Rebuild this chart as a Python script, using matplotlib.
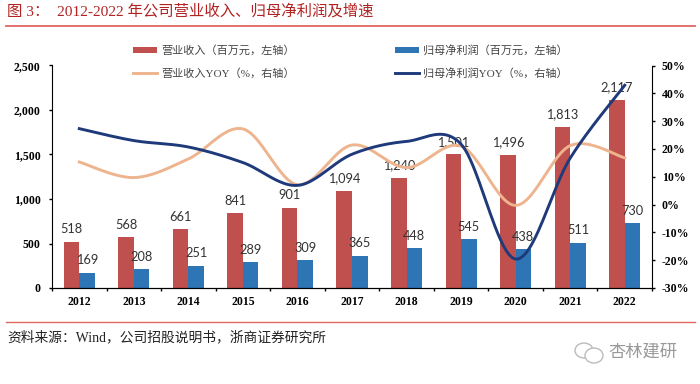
import numpy as np
import matplotlib
matplotlib.use('Agg')
import matplotlib.pyplot as plt
from matplotlib.patches import Ellipse
from matplotlib.ticker import FuncFormatter

plt.rcParams['font.family'] = ['Liberation Serif', 'Noto Sans CJK SC']

years = ['2012','2013','2014','2015','2016','2017','2018','2019','2020','2021','2022']
revenue = [518,568,661,841,901,1094,1240,1501,1496,1813,2117]
profit = [169,208,251,289,309,365,448,545,438,511,730]
rev_yoy = [15.3,9.7,16.4,27.2,7.1,21.4,13.3,21.0,-0.3,21.2,16.8]
profit_yoy = [27.3,23.0,20.7,15.1,6.9,18.1,22.7,21.7,-19.6,16.7,42.9]
left_ticks = [0,500,1000,1500,2000,2500]
right_ticks = [-30,-20,-10,0,10,20,30,40,50]

W, H = 700, 384
RED = '#C0504D'; BLUE = '#2E75B6'; ORANGE = '#EDB48E'; NAVY = '#1F3A7A'; RULE = '#E06666'

def smooth(xs, ys, n=24):
    xs = np.asarray(xs, float); ys = np.asarray(ys, float)
    px = np.r_[xs[0], xs, xs[-1]]; py = np.r_[ys[0], ys, ys[-1]]
    ox, oy = [], []
    for i in range(1, len(px) - 2):
        t = np.linspace(0, 1, n, endpoint=False)
        for a, out in ((px, ox), (py, oy)):
            p0, p1, p2, p3 = a[i-1], a[i], a[i+1], a[i+2]
            out.extend(0.5*(2*p1 + (p2-p0)*t + (2*p0-5*p1+4*p2-p3)*t**2 + (3*p1-p0-3*p2+p3)*t**3))
    ox.append(xs[-1]); oy.append(ys[-1])
    return np.array(ox), np.array(oy)

fig = plt.figure(figsize=(W/100, H/100), dpi=100)
ax = fig.add_axes([52/W, 1-288/H, (652-52)/W, (288-65.5)/H])
x = np.arange(len(years))
bw = 0.285
ax.bar(x-bw/2, revenue, bw, color=RED, label='营业收入（百万元，左轴）', zorder=2)
ax.bar(x+bw/2, profit, bw, color=BLUE, label='归母净利润（百万元，左轴）', zorder=2)
ax.set_xlim(-0.5, len(years)-0.5)
ax.set_ylim(0, 2500)
ax.set_yticks(left_ticks)
ax.yaxis.set_major_formatter(FuncFormatter(lambda v, p: f'{int(v):,}'))
ax.set_xticks(np.arange(-0.5, len(years)), minor=False)
ax.set_xticklabels([])
ax.set_xticks(x, minor=True)
ax.set_xticklabels(years, minor=True, fontsize=8.5, fontweight='bold')
ax.tick_params(axis='x', which='minor', length=0, pad=6)
ax.tick_params(axis='x', which='major', length=2.2, width=1, direction='out')
ax.tick_params(axis='y', length=2.2, width=1, direction='out', pad=6, labelsize=8.5)
for l in ax.get_yticklabels():
    l.set_fontweight('bold')
ax.spines['top'].set_visible(False)
ax.spines['right'].set_visible(False)

for i, v in enumerate(revenue):
    ax.text(x[i]-bw/2, v+140, f'{v:,}', ha='center', va='center',
            fontsize=9.2, family='Lato', color='#333333', zorder=3)
for i, v in enumerate(profit):
    ax.text(x[i]+bw/2, v+140, f'{v:,}', ha='center', va='center',
            fontsize=9.2, family='Lato', color='#333333', zorder=3)

ax2 = ax.twinx()
ax2.set_ylim(-30, 50)
ax2.set_yticks(right_ticks)
ax2.yaxis.set_major_formatter(FuncFormatter(lambda v, p: f'{int(v)}%'))
ax2.tick_params(axis='y', length=2.2, width=1, direction='out', pad=5, labelsize=8.5)
for l in ax2.get_yticklabels():
    l.set_fontweight('bold')
ax2.spines['top'].set_visible(False)
ax2.spines['left'].set_visible(False)
ax2.plot(*smooth(x, rev_yoy), color=ORANGE, lw=2.1, label='营业收入YOY（%，右轴）', zorder=3)
ax2.plot(*smooth(x, profit_yoy), color=NAVY, lw=2.1, label='归母净利润YOY（%，右轴）', zorder=4)

h1, l1 = ax.get_legend_handles_labels()
h2, l2 = ax2.get_legend_handles_labels()
fig.legend([h1[0], h2[0], h1[1], h2[1]], [l1[0], l2[0], l1[1], l2[1]], ncol=2, frameon=False,
           loc='center left', bbox_to_anchor=(133/W, 1-62/H), fontsize=8, labelcolor='#444444',
           borderpad=0, borderaxespad=0, columnspacing=9.0, handlelength=2.15, handletextpad=0.4,
           labelspacing=1.1, handleheight=0.5)

fig.text(7/W, 1-11.5/H, '图 3：  2012-2022 年公司营业收入、归母净利润及增速', color='#B22222', fontsize=11.1, va='center', ha='left')
fig.add_artist(plt.Line2D([6/W, 695/W], [1-25.5/H]*2, color=RULE, lw=1.3))
fig.add_artist(plt.Line2D([6/W, 695/W], [1-321.5/H]*2, color=RULE, lw=1.0))
fig.text(7/W, 1-337/H, '资料来源：Wind，公司招股说明书，浙商证券研究所', color='#222222', fontsize=9.9, va='center', ha='left')
fig.text(608/W, 1-353/H, '杏林建研', color='#999999', fontsize=12.4, va='center', ha='left')
for cx, cy, w, h in ((584, 350.5, 18, 15), (594, 355.5, 18, 15)):
    fig.add_artist(Ellipse((cx/W, 1-cy/H), w/W, h/H, transform=fig.transFigure,
                           facecolor='white', edgecolor='#BBBBBB', lw=1.0))
fig.savefig('out.png', dpi=100)
